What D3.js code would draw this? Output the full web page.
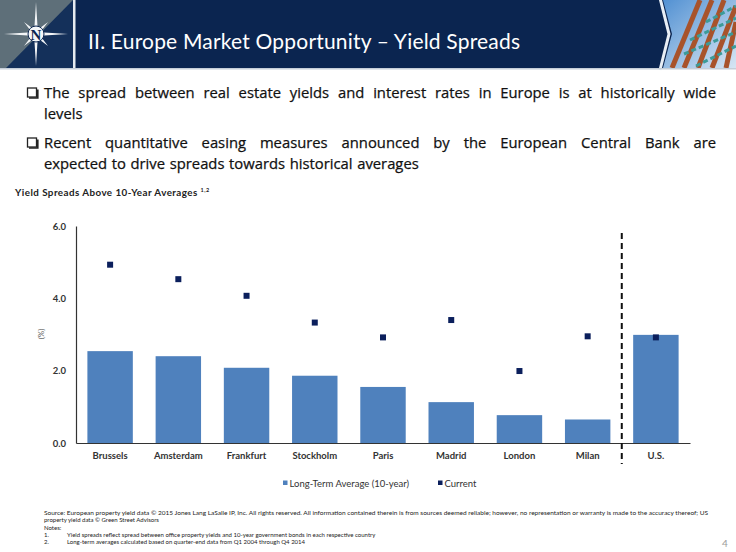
<!DOCTYPE html>
<html>
<head>
<meta charset="utf-8">
<script src="https://cdn.jsdelivr.net/npm/d3@7"></script>
<style>
  body { margin: 0; background: #fff; }
  svg { display: block; }
</style>
</head>
<body>
<svg id="js-svg" width="736" height="552"></svg>
<script>
const categories = ["Brussels", "Amsterdam", "Frankfurt", "Stockholm", "Paris", "Madrid", "London", "Milan", "U.S."];
const longTermAvg = [2.54, 2.40, 2.08, 1.86, 1.55, 1.13, 0.77, 0.65, 2.99];
const current = [4.93, 4.53, 4.07, 3.33, 2.92, 3.40, 1.99, 2.95, 2.92];
const yTicks = [0, 2, 4, 6];
const seriesNames = ["Long-Term Average (10-year)", "Current"];

const bullets = [
  ["The spread between real estate yields and interest rates in Europe is at historically wide", "levels"],
  ["Recent quantitative easing measures announced by the European Central Bank are", "expected to drive spreads towards historical averages"]
];
const footnotes = [
  "Source:  European property yield data \u00a9 2015 Jones Lang LaSalle IP, Inc. All rights reserved.  All information contained therein is from sources deemed reliable; however, no representation or warranty is made to the accuracy thereof; US",
  "property yield data \u00a9 Green Street Advisors",
  "Notes:"
];
const notes = [
  "Yield spreads reflect spread between office property yields and 10-year government bonds in each respective country",
  "Long-term averages calculated based on quarter-end data from Q1 2004 through Q4 2014"
];

const navy = "#0b2550";
const barColor = "#4f81bd";
const dotColor = "#0b1f5c";

const svg = d3.select("#js-svg");

// ---- header band ----
const header = svg.append("g").attr("id", "header");
const defs = svg.append("defs");
const sky = defs.append("linearGradient").attr("id", "sky")
  .attr("x1", 0).attr("y1", 0).attr("x2", 1).attr("y2", 1);
sky.append("stop").attr("offset", "0%").attr("stop-color", "#4f8fd2");
sky.append("stop").attr("offset", "100%").attr("stop-color", "#d7e6f3");
defs.append("clipPath").attr("id", "photo-clip")
  .append("path").attr("d", "M663,0 L736,0 L736,68 L663,68 L672,34 Z");

header.append("rect").attr("x", 0).attr("y", 0).attr("width", 736).attr("height", 68).attr("fill", navy);

// photo on the right
const photo = header.append("g").attr("clip-path", "url(#photo-clip)");
photo.append("rect").attr("x", 660).attr("y", 0).attr("width", 76).attr("height", 68).attr("fill", "url(#sky)");
const beams = [[700, 0, 672, 68], [712, 0, 684, 68], [724, 0, 698, 68], [736, 6, 712, 68], [736, 22, 726, 68]];
beams.forEach(b => {
  photo.append("line").attr("x1", b[0]).attr("y1", b[1]).attr("x2", b[2]).attr("y2", b[3])
    .attr("stroke", "#a8532b").attr("stroke-width", 5);
});
const panes = [[690, 40, 736, 18], [684, 54, 736, 32], [696, 66, 736, 46], [706, 22, 736, 6]];
panes.forEach(b => {
  photo.append("line").attr("x1", b[0]).attr("y1", b[1]).attr("x2", b[2]).attr("y2", b[3])
    .attr("stroke", "#3c9b98").attr("stroke-width", 3).attr("stroke-dasharray", "5,3");
});
header.append("path").attr("d", "M660,-2 L669,34 L660,70")
  .attr("fill", "none").attr("stroke", "#e8eef5").attr("stroke-width", 3);

// logo
header.append("rect").attr("x", 0).attr("y", 0).attr("width", 73).attr("height", 68).attr("fill", "#5e6f79");
header.append("path").attr("d", "M73,0 L73,68 L6,68 Z").attr("fill", "#14305a");
header.append("rect").attr("x", 73).attr("y", 0).attr("width", 2.5).attr("height", 68).attr("fill", "#e6ebf0");
const cx = 36, cy = 34;
const starPts = d3.range(16).map(i => {
  const a = i * Math.PI / 8 - Math.PI / 2;
  const r = i % 4 === 0 ? 32 : (i % 2 === 0 ? 17 : 4.5);
  return [cx + r * Math.cos(a), cy + r * Math.sin(a)];
});
header.append("path").attr("d", d3.line()(starPts) + "Z").attr("fill", "#f4f6f8");
header.append("circle").attr("cx", cx).attr("cy", cy).attr("r", 8).attr("fill", "#f4f6f8").attr("stroke", navy).attr("stroke-width", 1);
header.append("text").attr("x", cx).attr("y", cy + 5.5).attr("text-anchor", "middle")
  .attr("font-family", "Liberation Serif, serif").attr("font-weight", "bold").attr("font-size", 15)
  .attr("fill", navy).text("N");

header.append("rect").attr("x", 0).attr("y", 68).attr("width", 736).attr("height", 1.5).attr("fill", "#c5ced8");

header.append("text").attr("x", 88).attr("y", 49)
  .attr("font-family", "Lato, sans-serif").attr("font-size", 21).attr("fill", "#fff")
  .attr("textLength", 432).attr("lengthAdjust", "spacing")
  .text("II. Europe Market Opportunity \u2013 Yield Spreads");

// ---- bullets ----
const bulletFont = "Open Sans, sans-serif";
const justify = (g, text, x0, x1, y, full) => {
  const words = text.split(" ");
  const nodes = words.map(w => g.append("text").attr("y", y)
    .attr("font-family", bulletFont).attr("font-size", 14.8).attr("fill", "#111")
    .attr("stroke", "#111").attr("stroke-width", 0.25).text(w));
  const widths = nodes.map(n => n.node().getComputedTextLength());
  const total = d3.sum(widths);
  const space = full ? (x1 - x0 - total) / (words.length - 1) : 4.6;
  let x = x0;
  nodes.forEach((n, i) => { n.attr("x", x); x += widths[i] + space; });
};
const bulletG = svg.append("g").attr("id", "bullets");
const bulletY = [98, 148];
bullets.forEach((lines, i) => {
  const y = bulletY[i];
  bulletG.append("rect").attr("x", 27.5).attr("y", y - 10).attr("width", 9).attr("height", 9)
    .attr("fill", "none").attr("stroke", "#222").attr("stroke-width", 1.3);
  bulletG.append("path").attr("d", `M29,${y} L37.8,${y} L37.8,${y - 8.5}`)
    .attr("fill", "none").attr("stroke", "#222").attr("stroke-width", 1.6);
  justify(bulletG, lines[0], 44, 716, y, true);
  justify(bulletG, lines[1], 44, 716, y + 21, false);
});

// ---- chart ----
const chartFont = "Lato, sans-serif";
svg.append("text").attr("x", 15).attr("y", 196)
  .attr("font-family", chartFont).attr("font-weight", "bold").attr("font-size", 9.8).attr("fill", "#222")
  .attr("letter-spacing", 0.45)
  .text("Yield Spreads Above 10-Year Averages ")
  .append("tspan").attr("font-size", 5.5).attr("dy", -4).text("1,2");

const x = d3.scaleBand().domain(categories).range([76, 690]).paddingInner(0.334).paddingOuter(0.167);
const y = d3.scaleLinear().domain([0, 6]).range([443, 226]);

const plot = svg.append("g").attr("id", "plot");
plot.selectAll("rect.bar").data(categories).join("rect").attr("class", "bar")
  .attr("x", d => x(d)).attr("width", x.bandwidth())
  .attr("y", (d, i) => y(longTermAvg[i]))
  .attr("height", (d, i) => y(0) - y(longTermAvg[i]))
  .attr("fill", barColor);

const mk = 6;
plot.selectAll("rect.cur").data(categories).join("rect").attr("class", "cur")
  .attr("x", d => x(d) + x.bandwidth() / 2 - mk / 2).attr("width", mk)
  .attr("y", (d, i) => y(current[i]) - mk / 2).attr("height", mk)
  .attr("fill", dotColor);

const yAxis = plot.append("g").attr("transform", "translate(76,0)")
  .call(d3.axisLeft(y).tickValues(yTicks).tickFormat(d3.format(".1f")).tickSize(0).tickPadding(10));
yAxis.select(".domain").attr("stroke", "#333").attr("stroke-width", 1.2);
yAxis.selectAll("text").attr("font-family", chartFont).attr("font-weight", "bold").attr("font-size", 9.5).attr("fill", "#333");

const xAxis = plot.append("g").attr("transform", "translate(0,443)")
  .call(d3.axisBottom(x).tickSize(0).tickPadding(9));
xAxis.select(".domain").attr("stroke", "#333").attr("stroke-width", 1.2);
xAxis.selectAll("text").attr("font-family", chartFont).attr("font-weight", "bold").attr("font-size", 9.5).attr("fill", "#333");

plot.append("text").attr("transform", "translate(44,334) rotate(-90)").attr("text-anchor", "middle")
  .attr("font-family", chartFont).attr("font-size", 8).attr("fill", "#555").text("(%)");

const sepX = x("U.S.") - x.step() * x.paddingInner() / 2;
plot.append("line").attr("x1", sepX).attr("x2", sepX).attr("y1", 233).attr("y2", 464)
  .attr("stroke", "#111").attr("stroke-width", 2).attr("stroke-dasharray", "6,4");

// legend
const legend = svg.append("g").attr("id", "legend");
const legendX = [283, 438];
const legendColors = [barColor, dotColor];
seriesNames.forEach((name, i) => {
  legend.append("rect").attr("x", legendX[i]).attr("y", 480.5).attr("width", 4.5).attr("height", 4.5).attr("fill", legendColors[i]);
  legend.append("text").attr("x", legendX[i] + 6.5).attr("y", 486.5)
    .attr("font-family", chartFont).attr("font-size", 9.5).attr("fill", "#333").text(name);
});

// ---- footnotes ----
const foot = svg.append("g").attr("id", "footnotes").attr("font-family", chartFont).attr("font-size", 6).attr("fill", "#222");
footnotes.forEach((t, i) => {
  const tx = foot.append("text").attr("x", 44).attr("y", 515 + i * 7.3).text(t);
  if (i === 0) tx.attr("textLength", 664).attr("lengthAdjust", "spacingAndGlyphs");
});
notes.forEach((t, i) => {
  foot.append("text").attr("x", 44).attr("y", 537 + i * 7.3).text((i + 1) + ".");
  foot.append("text").attr("x", 67).attr("y", 537 + i * 7.3).text(t);
});

svg.append("text").attr("x", 722).attr("y", 547).attr("font-family", chartFont).attr("font-size", 10).attr("fill", "#9a9a9a").text("4");
</script>
</body>
</html>
